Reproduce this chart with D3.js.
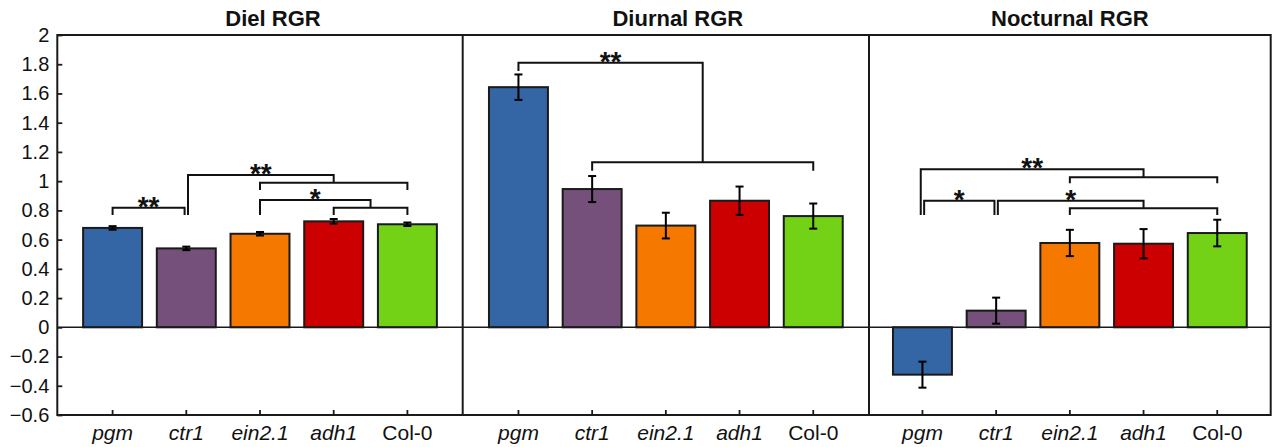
<!DOCTYPE html>
<html>
<head>
<meta charset="utf-8">
<script src="https://cdn.jsdelivr.net/npm/d3@7"></script>
<style>
  html, body { margin: 0; padding: 0; background: #fff; }
  svg { display: block; font-family: "Liberation Sans", Arial, sans-serif; }
</style>
</head>
<body>
<svg id="chart" width="1274" height="447"></svg>
<script>
// ---------- data ----------
const categories = ["pgm", "ctr1", "ein2.1", "adh1", "Col-0"];
const italicCategories = ["pgm", "ctr1", "ein2.1", "adh1"];
const panelTitles = ["Diel RGR", "Diurnal RGR", "Nocturnal RGR"];

const dielValues = [0.68, 0.54, 0.64, 0.725, 0.705];
const dielErrors = [0.012, 0.012, 0.012, 0.016, 0.012];

const diurnalValues = [1.643, 0.946, 0.696, 0.866, 0.761];
const diurnalErrors = [0.087, 0.089, 0.088, 0.097, 0.086];

const nocturnalValues = [-0.324, 0.114, 0.577, 0.572, 0.645];
const nocturnalErrors = [0.089, 0.089, 0.090, 0.100, 0.091];

const yTicks = [-0.6, -0.4, -0.2, 0, 0.2, 0.4, 0.6, 0.8, 1, 1.2, 1.4, 1.6, 1.8, 2];
const yDomain = [-0.6, 2];

const barColors = ["#3465A4", "#75507B", "#F57900", "#CC0000", "#73D216"];

// significance brackets: ends are either a category or a group id
const groupBrackets = [
  { id: "g1", panel: 0, from: "ein2.1", to: "Col-0", level: 0.989, legBottom: 0.939 },
  { id: "g2", panel: 0, from: "adh1",   to: "Col-0", level: 0.818, legBottom: 0.768 },
  { id: "g3", panel: 1, from: "ctr1",   to: "Col-0", level: 1.129, legBottom: 1.071 },
  { id: "g4", panel: 2, from: "ein2.1", to: "Col-0", level: 1.026, legBottom: 0.985 },
  { id: "g5", panel: 2, from: "ein2.1", to: "Col-0", level: 0.814, legBottom: 0.768 }
];
const sigBrackets = [
  { panel: 0, from: "pgm",  to: "ctr1", level: 0.818, legBottom: 0.768, label: "**" },
  { panel: 0, from: "ctr1", to: "g1",   level: 1.042, legBottom: 0.768, label: "**" },
  { panel: 0, from: "ein2.1", to: "g2", level: 0.871, legBottom: 0.768, label: "*" },
  { panel: 1, from: "pgm",  to: "g3",   level: 1.810, legBottom: 1.753, label: "**" },
  { panel: 2, from: "pgm",  to: "g4",   level: 1.081, legBottom: 0.768, label: "**" },
  { panel: 2, from: "pgm",  to: "ctr1", level: 0.866, legBottom: 0.768, label: "*" },
  { panel: 2, from: "ctr1", to: "g5",   level: 0.866, legBottom: 0.768, label: "*" }
];

const panels = [
  { values: dielValues, errors: dielErrors },
  { values: diurnalValues, errors: diurnalErrors },
  { values: nocturnalValues, errors: nocturnalErrors }
];

// ---------- layout ----------
const edges = [57.3, 462.7, 869, 1270.7];
const plotTop = 35, plotBottom = 415;
const step = 73.7;
const titleShift = [13, 12, 0];
const ink = "#1a1a1a";

const svg = d3.select("#chart");
const y = d3.scaleLinear().domain(yDomain).range([plotBottom, plotTop]);

function xScaleFor(i) {
  const x0 = edges[i], x1 = edges[i + 1];
  const pin = 0.2;
  const pout = ((x1 - x0) / step - (categories.length - pin)) / 2;
  return d3.scaleBand().domain(categories).range([x0, x1])
    .paddingInner(pin).paddingOuter(pout);
}
const xs = panels.map((p, i) => xScaleFor(i));

// bars, error bars
panels.forEach((p, i) => {
  const x = xs[i];
  const g = svg.append("g");
  const data = categories.map((c, k) => ({ c, v: p.values[k], e: p.errors[k], col: barColors[k] }));
  g.selectAll("rect").data(data).join("rect")
    .attr("x", d => x(d.c))
    .attr("width", x.bandwidth())
    .attr("y", d => y(Math.max(0, d.v)))
    .attr("height", d => Math.abs(y(d.v) - y(0)))
    .attr("fill", d => d.col)
    .attr("stroke", ink)
    .attr("stroke-width", 2);
  const cx = d => x(d.c) + x.bandwidth() / 2;
  const eb = g.selectAll("g.err").data(data).join("g").attr("class", "err")
    .attr("stroke", "#000").attr("stroke-width", 2);
  eb.append("line").attr("x1", cx).attr("x2", cx)
    .attr("y1", d => y(d.v + d.e)).attr("y2", d => y(d.v - d.e));
  eb.append("line").attr("x1", d => cx(d) - 4).attr("x2", d => cx(d) + 4)
    .attr("y1", d => y(d.v + d.e)).attr("y2", d => y(d.v + d.e));
  eb.append("line").attr("x1", d => cx(d) - 4).attr("x2", d => cx(d) + 4)
    .attr("y1", d => y(d.v - d.e)).attr("y2", d => y(d.v - d.e));

  // x axis labels + inward ticks
  const ax = svg.append("g").attr("transform", `translate(0,${plotBottom})`)
    .call(d3.axisBottom(x).tickSizeInner(-5).tickSizeOuter(0).tickPadding(10));
  ax.select(".domain").remove();
  ax.selectAll(".tick line").attr("stroke", ink).attr("stroke-width", 1.8);
  ax.selectAll(".tick text")
    .attr("font-size", 21)
    .attr("fill", "#111")
    .attr("font-family", '"Liberation Sans", Arial, sans-serif')
    .style("font-style", d => italicCategories.includes(d) ? "italic" : "normal");

  // title
  svg.append("text")
    .attr("x", (edges[i] + edges[i + 1]) / 2 + titleShift[i])
    .attr("y", 26)
    .attr("text-anchor", "middle")
    .attr("font-size", 22)
    .attr("font-weight", "bold")
    .attr("fill", "#111")
    .text(panelTitles[i]);
});

// zero line
svg.append("line")
  .attr("x1", edges[0]).attr("x2", edges[3])
  .attr("y1", y(0)).attr("y2", y(0))
  .attr("stroke", ink).attr("stroke-width", 1.6);

// frame and dividers
svg.append("rect")
  .attr("x", edges[0]).attr("y", plotTop)
  .attr("width", edges[3] - edges[0]).attr("height", plotBottom - plotTop)
  .attr("fill", "none").attr("stroke", ink).attr("stroke-width", 2);
[edges[1], edges[2]].forEach(xv => {
  svg.append("line").attr("x1", xv).attr("x2", xv).attr("y1", plotTop).attr("y2", plotBottom)
    .attr("stroke", ink).attr("stroke-width", 2);
});

// y axis
const yAx = svg.append("g").attr("transform", `translate(${edges[0]},0)`)
  .call(d3.axisLeft(y).tickValues(yTicks).tickSizeInner(-5).tickSizeOuter(0).tickPadding(8)
    .tickFormat(d => String(d).replace("-", "\u2212")));
yAx.select(".domain").remove();
yAx.selectAll(".tick line").attr("stroke", ink).attr("stroke-width", 1.8);
yAx.selectAll(".tick text").attr("font-size", 20).attr("fill", "#111")
  .attr("font-family", '"Liberation Sans", Arial, sans-serif');

// significance brackets
const groupById = Object.fromEntries(groupBrackets.map(g => [g.id, g]));
function center(panel, c) { const x = xs[panel]; return x(c) + x.bandwidth() / 2; }
function endInfo(b, key) {
  const ref = b[key];
  if (groupById[ref]) {
    const g = groupById[ref];
    return { x: (center(b.panel, g.from) + center(b.panel, g.to)) / 2, bottom: g.level };
  }
  return { x: center(b.panel, ref), bottom: b.legBottom, cat: ref };
}
function bracketEnds(b, isGroup) {
  if (isGroup) {
    return {
      a: { x: center(b.panel, b.from), bottom: b.legBottom, cat: b.from },
      z: { x: center(b.panel, b.to), bottom: b.legBottom, cat: b.to }
    };
  }
  return { a: endInfo(b, "from"), z: endInfo(b, "to") };
}
const shapes = [];
groupBrackets.forEach(b => shapes.push({ b, ...bracketEnds(b, true) }));
sigBrackets.forEach(b => shapes.push({ b, ...bracketEnds(b, false) }));
// legs that share a category and bottom sit side by side
const shared = {};
shapes.forEach(s => {
  ["a", "z"].forEach(key => {
    const e = s[key];
    if (!e.cat) return;
    const k = s.b.panel + ":" + e.cat + ":" + e.bottom.toFixed(3);
    (shared[k] = shared[k] || []).push({ s, key });
  });
});
Object.values(shared).forEach(list => {
  if (list.length < 2) return;
  list.sort((p, q) => {
    if (p.key !== q.key) return p.key === "z" ? -1 : 1;
    return q.s.b.level - p.s.b.level;
  });
  list.forEach((it, idx) => { it.s[it.key].x += (idx === 0 ? -1.7 : 1.7); });
});
const bg = svg.append("g").attr("fill", "none").attr("stroke", "#111").attr("stroke-width", 2);
shapes.forEach(s => {
  const lv = y(s.b.level);
  bg.append("path").attr("d",
    `M${s.a.x},${y(s.a.bottom)}V${lv}H${s.z.x}V${y(s.z.bottom)}`);
  if (s.b.label) {
    svg.append("text")
      .attr("x", (s.a.x + s.z.x) / 2)
      .attr("y", lv + 8)
      .attr("text-anchor", "middle")
      .attr("font-size", 28)
      .attr("font-weight", "bold")
      .attr("fill", "#111")
      .text(s.b.label);
  }
});
</script>
</body>
</html>
